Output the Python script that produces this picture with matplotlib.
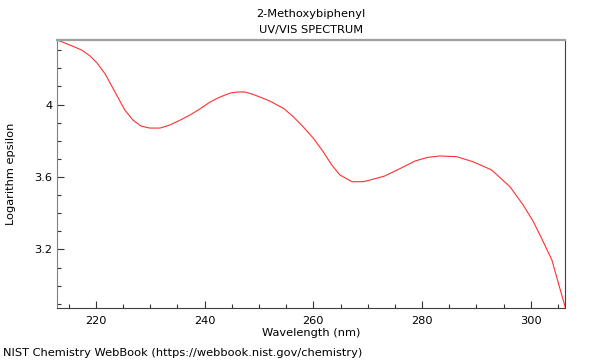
import matplotlib
matplotlib.use('Agg')
import matplotlib.pyplot as plt
from matplotlib.ticker import MultipleLocator

# UV/VIS spectrum of 2-Methoxybiphenyl
wavelength = [212.9, 216.1, 217.4, 218.9, 220.2, 221.7, 223.1, 224.2, 225.3,
              226.8, 228.3, 229.9, 231.8, 233.6, 235.5, 237.3, 239.1, 241.0,
              242.8, 244.7, 246.1, 247.4, 248.7, 250.2, 252.0, 254.5, 256.3,
              258.1, 260.0, 261.8, 263.4, 264.9, 267.1, 269.2, 270.4, 273.1,
              276.0, 278.7, 281.0, 283.3, 286.4, 289.4, 292.8, 296.2, 298.6,
              300.5, 302.0, 303.9, 305.1, 306.4]
log_eps = [4.356, 4.317, 4.300, 4.268, 4.229, 4.168, 4.091, 4.030, 3.970,
           3.914, 3.881, 3.870, 3.870, 3.887, 3.914, 3.942, 3.975, 4.014,
           4.041, 4.063, 4.069, 4.069, 4.058, 4.041, 4.019, 3.979, 3.933,
           3.878, 3.814, 3.740, 3.666, 3.611, 3.574, 3.574, 3.583, 3.605,
           3.647, 3.688, 3.708, 3.716, 3.712, 3.684, 3.639, 3.546, 3.446,
           3.353, 3.262, 3.142, 3.014, 2.877]

x_ticks = [220, 240, 260, 280, 300]
y_ticks = [3.2, 3.6, 4.0]
y_labels = ['3.2', '3.6', '4']

fig = plt.figure(figsize=(6, 3.6), dpi=100)
ax = fig.add_axes([57.3 / 600, 1 - 308 / 360, (565.3 - 57.3) / 600, (308 - 40) / 360])

ax.plot(wavelength, log_eps, color='#ff3030', linewidth=0.8)

ax.set_xlim(212.88, 306.37)
ax.set_ylim(2.877, 4.356)
ax.set_xticks(x_ticks)
ax.set_yticks(y_ticks)
ax.set_yticklabels(y_labels)
ax.xaxis.set_minor_locator(MultipleLocator(5))
ax.yaxis.set_minor_locator(MultipleLocator(0.1))
ax.tick_params(which='major', direction='in', length=5, width=0.8,
               labelsize=8.2, colors='#333333', labelcolor='black')
ax.tick_params(which='minor', direction='in', length=3, width=0.8,
               colors='#333333')
ax.tick_params(axis='x', pad=6)

ax.spines['top'].set_color('#a0a0a0')
ax.spines['top'].set_linewidth(1.6)
ax.spines['left'].set_color('#808080')
ax.spines['right'].set_color('#404040')
ax.spines['bottom'].set_color('#404040')

ax.set_xlabel('Wavelength (nm)', fontsize=8.2, labelpad=1)
ax.set_ylabel('Logarithm epsilon', fontsize=8.2, labelpad=13)
ax.set_title('2-Methoxybiphenyl\nUV/VIS SPECTRUM', fontsize=8.2, pad=5,
             linespacing=1.7)

fig.text(3 / 600, 1 - 353 / 360, 'NIST Chemistry WebBook (https://webbook.nist.gov/chemistry)',
         fontsize=8.2, ha='left', va='center')

fig.savefig('out.png', dpi=100)
